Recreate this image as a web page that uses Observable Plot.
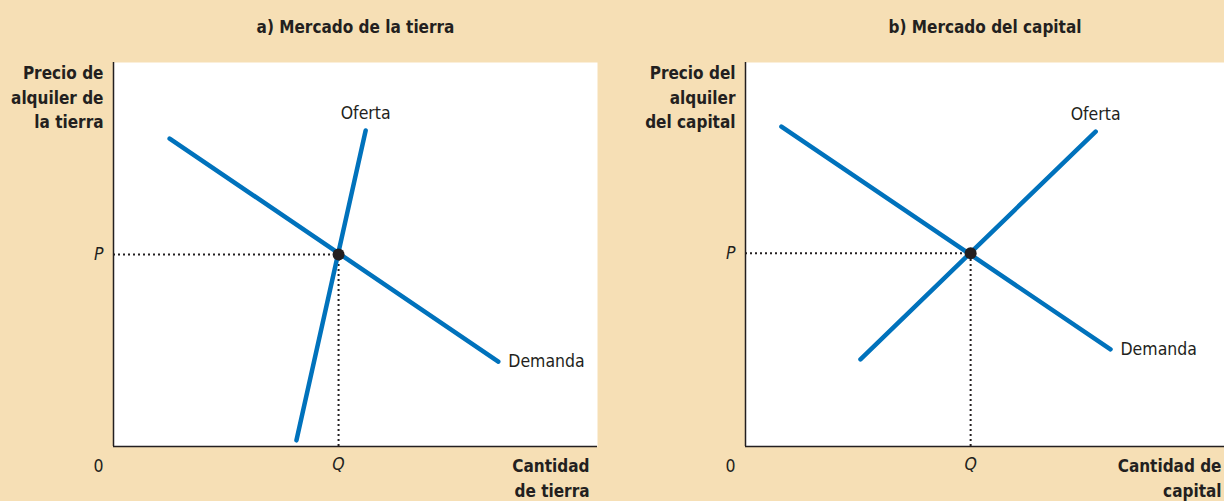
<!DOCTYPE html>
<html><head><meta charset="utf-8">
<script src="https://cdn.jsdelivr.net/npm/d3@7"></script>
<script src="https://cdn.jsdelivr.net/npm/@observablehq/plot@0.6"></script>
<style>
body{margin:0;background:#F6DFB5;}
#wrap{display:flex;width:1224px;height:501px;background:#F6DFB5;}
svg{font-family:"Liberation Sans Narrow","DejaVu Sans Condensed",sans-serif;}
</style></head>
<body><div id="wrap"></div>
<script>
const titles = ["a) Mercado de la tierra", "b) Mercado del capital"];
const yLabels = ["Precio de\nalquiler de\nla tierra", "Precio del\nalquiler\ndel capital"];
const xLabels = ["Cantidad\nde tierra", "Cantidad de\ncapital"];
const supplyLabel = "Oferta";
const demandLabel = "Demanda";
const pTick = "P", qTick = "Q", originTick = "0";

const demandA = [{q: 1.16, p: 8.02}, {q: 7.95, p: 2.21}];
const supplyA = [{q: 3.78, p: 0.16}, {q: 5.21, p: 8.23}];
const eqA = [{q: 4.65, p: 5.0}];

const demandB = [{q: 0.75, p: 8.33}, {q: 7.62, p: 2.53}];
const supplyB = [{q: 2.40, p: 2.27}, {q: 7.31, p: 8.20}];
const eqB = [{q: 4.70, p: 5.03}];

const BLUE = "#0072BC", INK = "#231F20";
const FS = 17.5;

function panel(i, demand, supply, eq, mL, mR, xLabDx, yLabDx) {
  const eqq = eq[0];
  return Plot.plot({
    width: 612, height: 501,
    marginLeft: mL, marginRight: mR, marginTop: 62, marginBottom: 55,
    x: {domain: [0, 10]}, y: {domain: [0, 10]},
    style: {background: "transparent", fontFamily: "'Liberation Sans Narrow','DejaVu Sans Condensed',sans-serif"},
    marks: [
      Plot.frame({fill: "white", stroke: null}),
      Plot.ruleX([0], {stroke: INK, strokeWidth: 1.5}),
      Plot.ruleY([0], {stroke: INK, strokeWidth: 1.5}),
      Plot.ruleY(eq, {y: "p", x1: 0, x2: "q", stroke: INK, strokeWidth: 2, strokeDasharray: "2,3"}),
      Plot.ruleX(eq, {x: "q", y1: 0, y2: "p", stroke: INK, strokeWidth: 2, strokeDasharray: "2,3"}),
      Plot.line(demand, {x: "q", y: "p", stroke: BLUE, strokeWidth: 4.5}),
      Plot.line(supply, {x: "q", y: "p", stroke: BLUE, strokeWidth: 4.5}),
      Plot.dot(eq, {x: "q", y: "p", r: 6, fill: INK, stroke: null}),
      Plot.text([supply[1]], {x: "q", y: "p", text: () => supplyLabel, dy: -17, fontSize: FS, fill: INK}),
      Plot.text([demand[1]], {x: "q", y: "p", text: () => demandLabel, dx: 10, textAnchor: "start", fontSize: FS, fill: INK}),
      Plot.axisX({ticks: [eqq.q], tickFormat: () => qTick, tickSize: 0, tickPadding: 11, fontSize: FS, fontStyle: "italic", label: null, fill: INK}),
      Plot.axisY({ticks: [eqq.p], tickFormat: () => pTick, tickSize: 0, tickPadding: 10, fontSize: FS, fontStyle: "italic", label: null, fill: INK}),
      Plot.text([{q: 0, p: 0}], {x: "q", y: "p", text: () => originTick, dx: -15, dy: 20, fontSize: FS, fill: INK}),
      Plot.text([titles[i]], {frameAnchor: "top", dy: -42, fontSize: 17, fontWeight: "bold", fill: INK}),
      Plot.text([yLabels[i]], {frameAnchor: "top-left", dx: yLabDx, dy: -1, textAnchor: "end", lineAnchor: "top", lineHeight: 1.45, fontSize: 17, fontWeight: "bold", fill: INK}),
      Plot.text([xLabels[i]], {frameAnchor: "bottom-right", dx: xLabDx, dy: 8, textAnchor: "end", lineAnchor: "top", lineHeight: 1.45, fontSize: 17, fontWeight: "bold", fill: INK})
    ]
  });
}

const wrap = document.getElementById("wrap");
wrap.append(panel(0, demandA, supplyA, eqA, 113, 15, -8, -10));
wrap.append(panel(1, demandB, supplyB, eqB, 133, 0, -3, -10));
</script>
</body></html>
